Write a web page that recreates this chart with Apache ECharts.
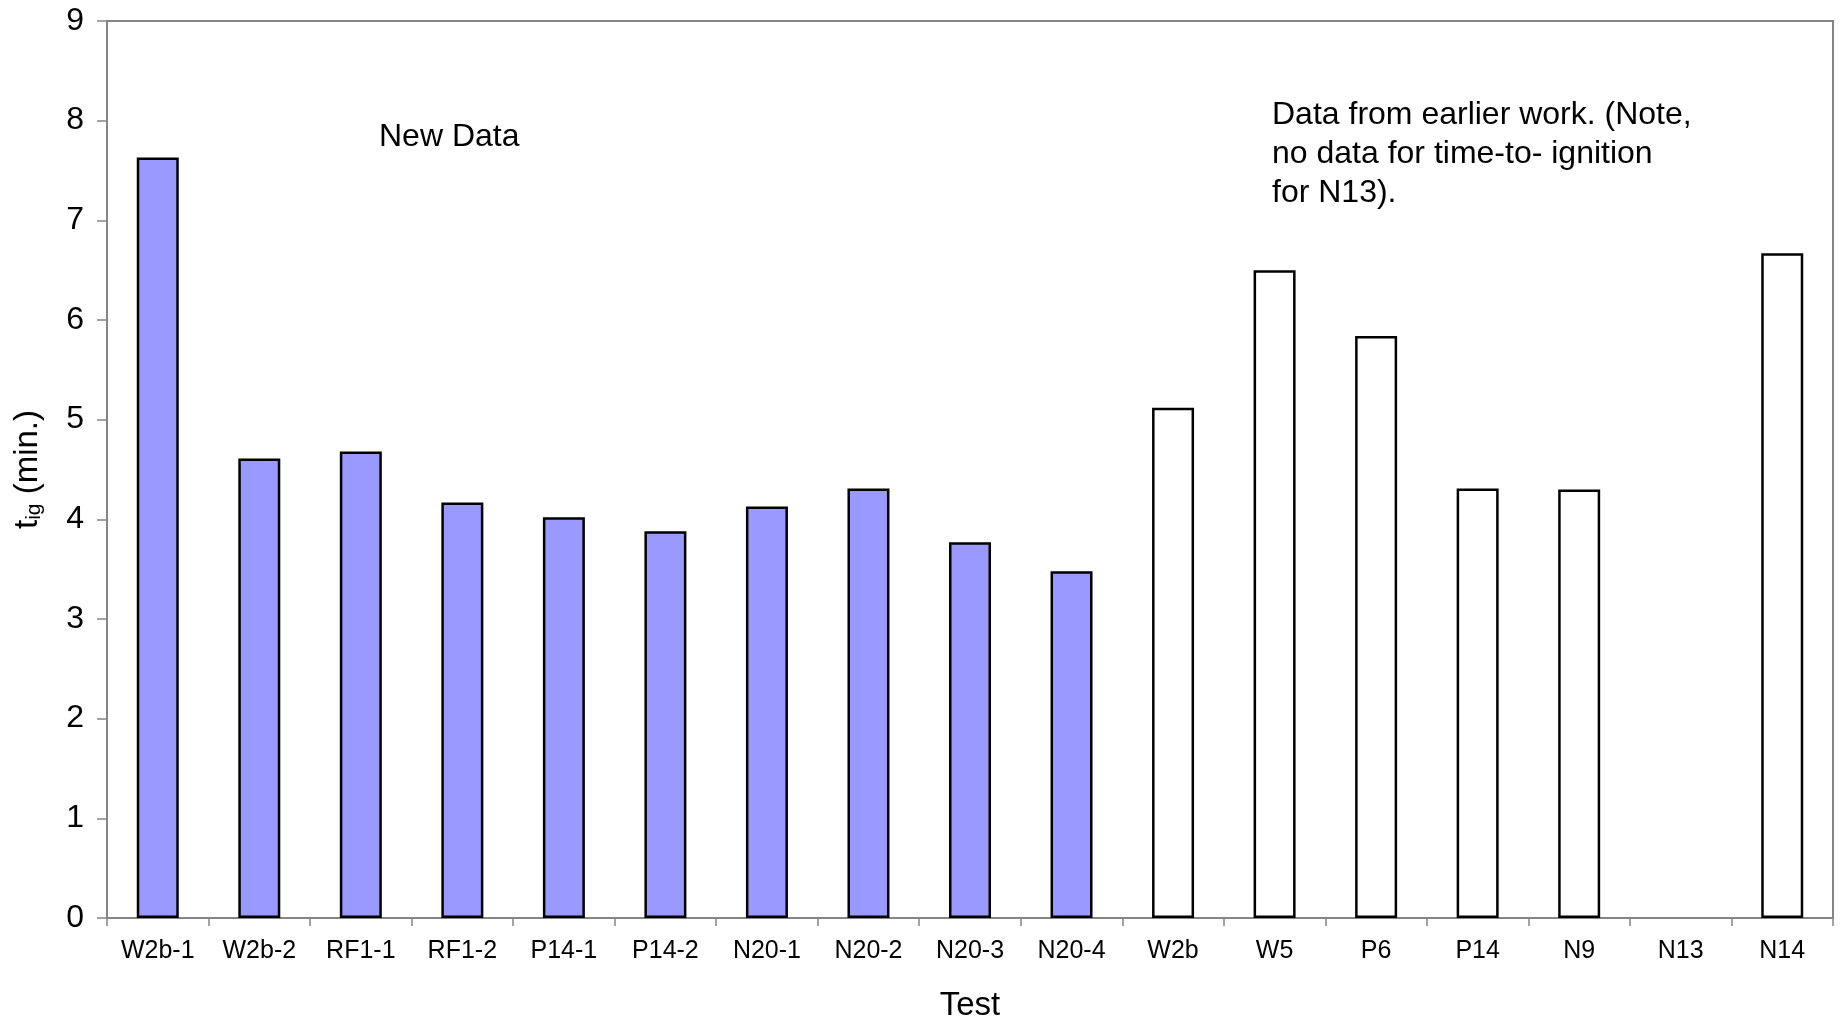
<!DOCTYPE html>
<html>
<head>
<meta charset="utf-8">
<script src="https://cdn.jsdelivr.net/npm/echarts@6/dist/echarts.min.js"></script>
<style>
html,body{margin:0;padding:0;background:#fff;}
#chart{width:1846px;height:1018px;}
</style>
</head>
<body>
<div id="chart"></div>
<script>
// Categories (tests)
var categories = ['W2b-1','W2b-2','RF1-1','RF1-2','P14-1','P14-2','N20-1','N20-2','N20-3','N20-4','W2b','W5','P6','P14','N9','N13','N14'];
// New data (filled bars), null where not applicable
var newData = [7.63, 4.61, 4.68, 4.17, 4.02, 3.88, 4.13, 4.31, 3.77, 3.48, null, null, null, null, null, null, null];
// Data from earlier work (open bars); N13 has no data
var earlierData = [null, null, null, null, null, null, null, null, null, null, 5.12, 6.50, 5.84, 4.31, 4.30, null, 6.67];
// Y axis ticks
var yMin = 0, yMax = 9, yStep = 1;

var FONT = '"Liberation Sans", Arial, sans-serif';
var chart = echarts.init(document.getElementById('chart'), null, {renderer: 'canvas'});
var option = {
  animation: false,
  backgroundColor: '#ffffff',
  textStyle: {fontFamily: FONT, color: '#000'},
  grid: {left: 107, right: 13, top: 21, bottom: 100, show: true, borderColor: '#858585', borderWidth: 2, containLabel: false, outerBoundsMode: 'none'},
  xAxis: {
    type: 'category',
    data: categories,
    boundaryGap: true,
    axisLine: {lineStyle: {color: '#858585', width: 2}},
    axisTick: {show: true, length: 8, lineStyle: {color: '#858585', width: 1.5}},
    axisLabel: {color: '#000', fontSize: 25, fontFamily: FONT, margin: 21, interval: 0},
    name: 'Test',
    nameLocation: 'middle',
    nameGap: 71,
    nameTextStyle: {color: '#000', fontSize: 33, fontFamily: FONT}
  },
  yAxis: {
    type: 'value',
    min: yMin, max: yMax, interval: yStep,
    splitLine: {show: false},
    axisLine: {show: true, lineStyle: {color: '#858585', width: 2}},
    axisTick: {show: true, length: 10, lineStyle: {color: '#858585', width: 1.5}},
    axisLabel: {color: '#000', fontSize: 32, fontFamily: FONT, margin: 23},
    name: '{a|t}{s|ig}{a| (min.)}',
    nameLocation: 'middle',
    nameRotate: 90,
    nameGap: 62,
    nameTextStyle: {
      color: '#000', fontFamily: FONT, fontSize: 33,
      rich: {
        a: {fontSize: 33, fontFamily: FONT, color: '#000', lineHeight: 35},
        s: {fontSize: 21, fontFamily: FONT, color: '#000', lineHeight: 12, verticalAlign: 'bottom'}
      }
    }
  },
  series: [
    {
      name: 'New Data',
      type: 'bar',
      data: newData,
      barWidth: 42,
      barGap: '-100%',
      itemStyle: {color: '#9999FF', borderColor: '#000', borderWidth: 2.5}
    },
    {
      name: 'Earlier work',
      type: 'bar',
      data: earlierData,
      barWidth: 42,
      barGap: '-100%',
      itemStyle: {color: '#ffffff', borderColor: '#000', borderWidth: 2.5}
    }
  ],
  graphic: [
    {type: 'text', left: 379, top: 121, style: {text: 'New Data', font: '32px ' + FONT, fill: '#000'}},
    {type: 'text', left: 1272, top: 96, style: {text: 'Data from earlier work. (Note,\nno data for time-to- ignition\nfor N13).', font: '32px ' + FONT, fill: '#000', lineHeight: 39}}
  ]
};
chart.setOption(option);
</script>
</body>
</html>
